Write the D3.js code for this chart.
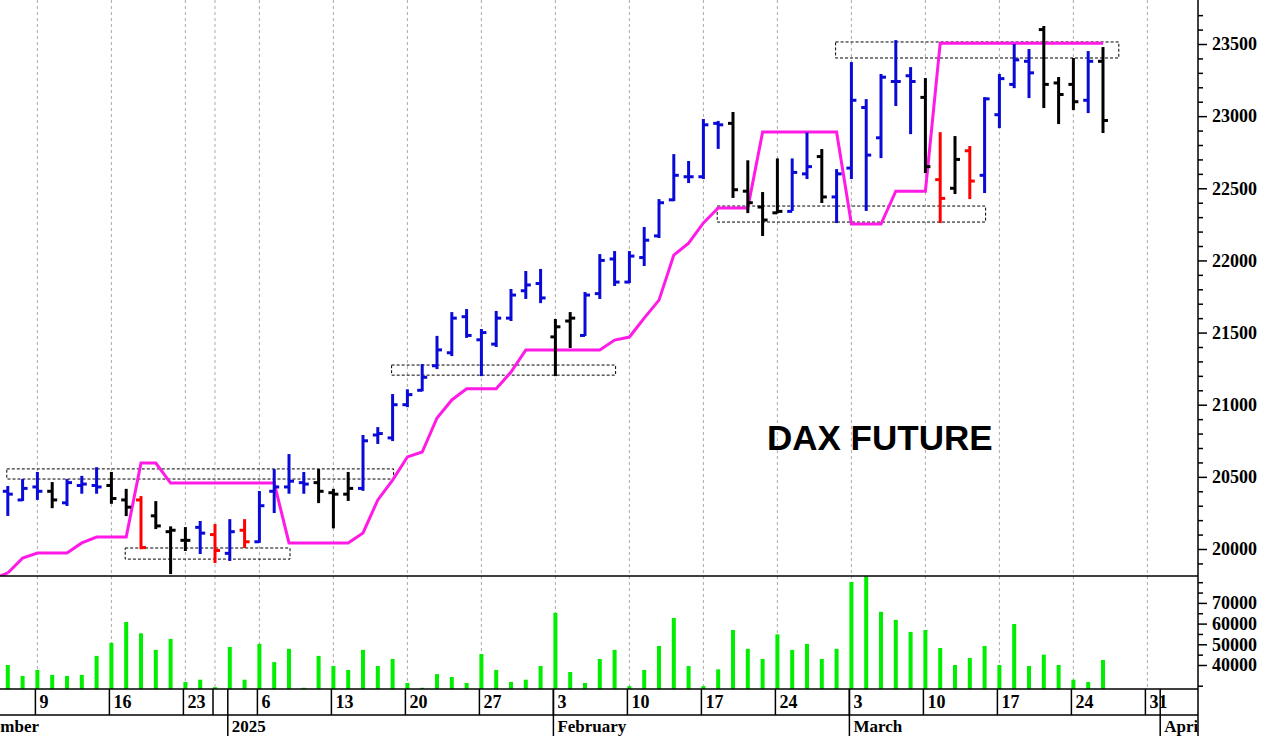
<!DOCTYPE html>
<html>
<head>
<meta charset="utf-8">
<script src="https://cdn.jsdelivr.net/npm/d3@7"></script>
<style>
  body { margin: 0; background: #fff; }
  svg { display: block; }
</style>
</head>
<body>
<div id="chart"></div>
<script>
// trading days on the axis (first three and last seven carry no bars)
const days = [
  '2024-12-02','2024-12-03','2024-12-04',
  '2024-12-05','2024-12-06','2024-12-09','2024-12-10','2024-12-11','2024-12-12','2024-12-13',
  '2024-12-16','2024-12-17','2024-12-18','2024-12-19','2024-12-20','2024-12-23','2024-12-27','2024-12-30',
  '2025-01-02','2025-01-03','2025-01-06','2025-01-07','2025-01-08','2025-01-09','2025-01-10',
  '2025-01-13','2025-01-14','2025-01-15','2025-01-16','2025-01-17','2025-01-20','2025-01-21','2025-01-22',
  '2025-01-23','2025-01-24','2025-01-27','2025-01-28','2025-01-29','2025-01-30','2025-01-31',
  '2025-02-03','2025-02-04','2025-02-05','2025-02-06','2025-02-07','2025-02-10','2025-02-11','2025-02-12',
  '2025-02-13','2025-02-14','2025-02-17','2025-02-18','2025-02-19','2025-02-20','2025-02-21',
  '2025-02-24','2025-02-25','2025-02-26','2025-02-27','2025-02-28',
  '2025-03-03','2025-03-04','2025-03-05','2025-03-06','2025-03-07','2025-03-10','2025-03-11','2025-03-12',
  '2025-03-13','2025-03-14','2025-03-17','2025-03-18','2025-03-19','2025-03-20','2025-03-21',
  '2025-03-24','2025-03-25','2025-03-26',
  '2025-03-27','2025-03-28','2025-03-31','2025-04-01','2025-04-02','2025-04-03','2025-04-04'
];
const firstBar = 3;

const open  = [20400,20340,20430,20400,20320,20440,20440,20440,20340,20340,20230,20120,20060,20150,20100,
  19970,20130,20050,20400,20430,20460,20460,20390,20380,20420,20790,20770,21000,21100,21270,21360,21610,21450,21420,21600,21790,21840,
  21470,21580,21480,21770,22010,21850,22020,22170,22420,22580,22580,22950,22950,22480,22370,22330,22340,22600,22720,22440,
  22640,23060,22850,23240,23280,23130,22560,22500,22760,22590,23010,23220,23380,23600,23230,23220,23110,23380];
const high  = [20430,20478,20527,20457,20478,20500,20560,20527,20410,20360,20325,20150,20145,20187,20166,
  20200,20200,20395,20547,20651,20527,20547,20410,20527,20783,20838,21067,21100,21275,21470,21635,21656,21518,21643,21795,21920,21934,
  21587,21635,21774,22037,22058,22058,22225,22418,22730,22682,22973,22960,23022,22687,22467,22700,22700,22880,22765,22626,
  23368,23111,23285,23520,23333,23257,22882,22855,22786,23125,23285,23493,23458,23618,23264,23396,23444,23472];
const low   = [20236,20340,20347,20290,20305,20390,20390,20320,20235,20005,20145,19833,19993,19972,19910,
  19924,20014,20050,20256,20390,20390,20325,20150,20340,20410,20735,20755,20990,21100,21254,21344,21470,21205,21407,21587,21740,21711,
  21205,21400,21483,21740,21830,21850,21968,22162,22418,22543,22571,22780,22440,22335,22176,22333,22350,22571,22405,22266,
  22571,22350,22716,23077,22882,22612,22266,22467,22432,22474,22924,23201,23132,23063,22952,23049,23028,22890];
const close = [20380,20420,20400,20340,20460,20450,20430,20350,20290,20010,20160,20130,20060,20110,19990,
  20120,20050,20300,20430,20470,20450,20400,20380,20420,20750,20800,21000,21070,21190,21380,21600,21480,21500,21600,21760,21830,21740,
  21540,21600,21760,22000,21850,22030,22140,22400,22590,22580,22940,22940,22490,22400,22280,22340,22610,22650,22440,22600,
  23110,22730,23270,23240,23240,22650,22430,22700,22550,23120,23260,23390,23300,23220,23150,23100,23380,22970];
const barColor = 'bbbkbbbkkrkkkbrbrbbbbkkkbbbbbbbbbbbbbkkbbbbbbbbbbkkkkbbkbbbbbbkrkrbbbbkkkbk'.split('');

const volume = [40000,34700,37600,35200,34700,35200,44400,50700,60800,55300,47300,52600,31800,32900,29300,
  48700,32900,50200,41400,47800,29000,44400,39500,37600,47300,39500,42900,31300,29000,35600,34200,31300,45300,37600,31800,32900,39500,
  65200,36600,31300,42900,47300,29800,37600,49200,62700,39500,29800,37900,56900,47800,42900,54800,47300,50200,42900,47800,
  80100,84000,65700,61800,56000,56900,48200,40000,43400,49200,40000,59800,39500,45000,40000,32900,31800,42400];

const stopLine = [19834,19937,19972,19972,19972,20042,20083,20083,20083,20596,20596,20457,20457,20457,20457,
  20457,20457,20457,20457,20042,20042,20042,20042,20042,20111,20340,20478,20638,20672,20908,21033,21110,21110,21110,21227,21380,21380,
  21380,21380,21380,21380,21448,21469,21600,21725,22037,22120,22260,22363,22363,22363,22890,22890,22890,22890,22890,22890,
  22252,22252,22252,22480,22480,22480,23506,23506,23506,23506,23506,23506,23506,23506,23506,23506,23506,23506];

// dashed boxes: [from day, to day, low price, high price]
const boxes = [
  ['2024-12-05','2025-01-17',20485,20555],
  ['2024-12-17','2025-01-08',19930,20007],
  ['2025-01-17','2025-02-07',21205,21275],
  ['2025-02-18','2025-03-14',22266,22377],
  ['2025-02-28','2025-03-27',23403,23514]
];

const priceTicks = d3.range(20000, 23501, 500);
const volumeTicks = [40000, 50000, 60000, 70000];
const monthNames = ['January','February','March','April','May','June','July','August','September','October','November','December'];

const W = 1269, H = 736;
const plotRight = 1198, priceBottom = 576, volBottom = 689, dayRowBottom = 715;

const parse = d3.timeParse('%Y-%m-%d');
const dates = days.map(parse);
const colors = { b: '#0a0ad8', k: '#000', r: '#ff0000' };

const svg = d3.select('#chart').append('svg').attr('width', W).attr('height', H);

const x = d3.scaleLinear().domain([firstBar, firstBar + 1]).range([7.8, 22.6]);
const y = d3.scaleLinear().domain([20000, 23500]).range([549, 44]);
const yv = d3.scaleLinear().domain([28400, 83000]).range([volBottom, priceBottom]);

svg.append('clipPath').attr('id', 'priceClip').append('rect')
  .attr('x', 0).attr('y', 0).attr('width', plotRight).attr('height', priceBottom);
svg.append('clipPath').attr('id', 'volClip').append('rect')
  .attr('x', 0).attr('y', priceBottom).attr('width', plotRight).attr('height', volBottom - priceBottom);
svg.append('clipPath').attr('id', 'axisClip').append('rect')
  .attr('x', 0).attr('y', volBottom).attr('width', plotRight).attr('height', H - volBottom);

// week starts and month starts
const weekIdx = [], monthIdx = [];
dates.forEach((d, i) => {
  if (i === 0) return;
  if (d.getDay() < dates[i - 1].getDay()) weekIdx.push(i);
  if (d.getMonth() !== dates[i - 1].getMonth()) monthIdx.push(i);
});

// gridlines
svg.append('g').selectAll('line').data(weekIdx).join('line')
  .attr('x1', d => x(d)).attr('x2', d => x(d))
  .attr('y1', 0).attr('y2', volBottom)
  .attr('stroke', '#aaa').attr('stroke-dasharray', '3,3').attr('stroke-width', 1);

const price = svg.append('g').attr('clip-path', 'url(#priceClip)');

// boxes
price.append('g').selectAll('rect').data(boxes).join('rect')
  .attr('x', d => x(days.indexOf(d[0])) - 1)
  .attr('width', d => x(days.indexOf(d[1])) - x(days.indexOf(d[0])) + 2)
  .attr('y', d => y(d[3])).attr('height', d => y(d[2]) - y(d[3]))
  .attr('fill', 'none').attr('stroke', '#000').attr('stroke-dasharray', '3,2').attr('stroke-width', 1);

// stop line
const line = d3.line().x((d, i) => x(i + firstBar)).y(d => y(d));
price.append('path').datum(stopLine)
  .attr('fill', 'none').attr('stroke', '#ff1ae6').attr('stroke-width', 3).attr('d', line);
price.append('line').attr('x1', 0).attr('y1', priceBottom).attr('x2', x(firstBar)).attr('y2', y(stopLine[0]))
  .attr('stroke', '#ff1ae6').attr('stroke-width', 3);

// OHLC bars
const bars = price.append('g').selectAll('g').data(open).join('g')
  .attr('stroke', (d, i) => colors[barColor[i]]).attr('stroke-width', 3);
bars.append('line')
  .attr('x1', (d, i) => x(i + firstBar)).attr('x2', (d, i) => x(i + firstBar))
  .attr('y1', (d, i) => y(high[i]) - 1).attr('y2', (d, i) => y(low[i]) + 1);
bars.append('line')
  .attr('x1', (d, i) => x(i + firstBar) - 5).attr('x2', (d, i) => x(i + firstBar))
  .attr('y1', (d, i) => y(open[i])).attr('y2', (d, i) => y(open[i]));
bars.append('line')
  .attr('x1', (d, i) => x(i + firstBar)).attr('x2', (d, i) => x(i + firstBar) + 5)
  .attr('y1', (d, i) => y(close[i])).attr('y2', (d, i) => y(close[i]));

svg.append('text').attr('x', 767).attr('y', 450)
  .attr('font-family', 'Liberation Sans, Arial, sans-serif').attr('font-weight', 'bold')
  .attr('font-size', 35).text('DAX FUTURE');

// volume
svg.append('g').attr('clip-path', 'url(#volClip)').selectAll('line').data(volume).join('line')
  .attr('x1', (d, i) => x(i + firstBar)).attr('x2', (d, i) => x(i + firstBar))
  .attr('y1', volBottom).attr('y2', d => yv(d))
  .attr('stroke', '#00ee00').attr('stroke-width', 4);

// frame lines
const frame = svg.append('g').attr('stroke', '#000').attr('stroke-width', 1.5);
frame.append('line').attr('x1', plotRight).attr('x2', plotRight).attr('y1', 0).attr('y2', H);
frame.append('line').attr('x1', 0).attr('x2', plotRight).attr('y1', priceBottom).attr('y2', priceBottom);
frame.append('line').attr('x1', 0).attr('x2', plotRight).attr('y1', volBottom).attr('y2', volBottom);
frame.append('line').attr('x1', 0).attr('x2', plotRight).attr('y1', dayRowBottom).attr('y2', dayRowBottom);

// right axes
const axisFont = 'Liberation Serif, Times New Roman, serif';
const pAxis = svg.append('g').attr('transform', `translate(${plotRight},0)`)
  .call(d3.axisRight(y).tickValues(priceTicks).tickSize(9).tickFormat(d3.format('d')));
const pMinor = svg.append('g').attr('transform', `translate(${plotRight},0)`)
  .call(d3.axisRight(y).tickValues(d3.range(19900, 23801, 100).filter(v => v % 500 && y(v) > 2 && y(v) < priceBottom - 2)).tickSize(5).tickFormat(''));
const vAxis = svg.append('g').attr('transform', `translate(${plotRight},0)`)
  .call(d3.axisRight(yv).tickValues(volumeTicks).tickSize(9).tickFormat(d3.format('d')));
const vMinor = svg.append('g').attr('transform', `translate(${plotRight},0)`)
  .call(d3.axisRight(yv).tickValues([30000, 45000, 55000, 65000, 75000, 80000]).tickSize(5).tickFormat(''));
[pAxis, pMinor, vAxis, vMinor].forEach(g => {
  g.select('.domain').remove();
  g.selectAll('line').attr('stroke-width', 1.5);
  g.selectAll('text').attr('font-family', axisFont).attr('font-weight', 'bold')
    .attr('font-size', 18).attr('fill', '#000').attr('x', 14);
});

// date axis
const dAxis = svg.append('g').attr('clip-path', 'url(#axisClip)');
dAxis.selectAll('line.wk').data(weekIdx).join('line')
  .attr('x1', d => x(d) - 2).attr('x2', d => x(d) - 2)
  .attr('y1', volBottom).attr('y2', dayRowBottom).attr('stroke', '#000').attr('stroke-width', 1.5);
dAxis.selectAll('text.wk').data(weekIdx.filter(i => days[i] !== '2024-12-30')).join('text')
  .attr('x', d => x(d) + 2).attr('y', 708)
  .attr('font-family', axisFont).attr('font-weight', 'bold').attr('font-size', 18)
  .text(d => dates[d].getDate());
dAxis.selectAll('line.mo').data(monthIdx).join('line')
  .attr('x1', d => x(d) - 2).attr('x2', d => x(d) - 2)
  .attr('y1', volBottom).attr('y2', H).attr('stroke', '#000').attr('stroke-width', 1.5);
dAxis.selectAll('text.mo').data([0].concat(monthIdx)).join('text')
  .attr('x', d => x(d) + 2).attr('y', 732)
  .attr('font-family', axisFont).attr('font-weight', 'bold').attr('font-size', 17)
  .text(d => dates[d].getMonth() === 0 ? dates[d].getFullYear() : monthNames[dates[d].getMonth()]);
</script>
</body>
</html>
